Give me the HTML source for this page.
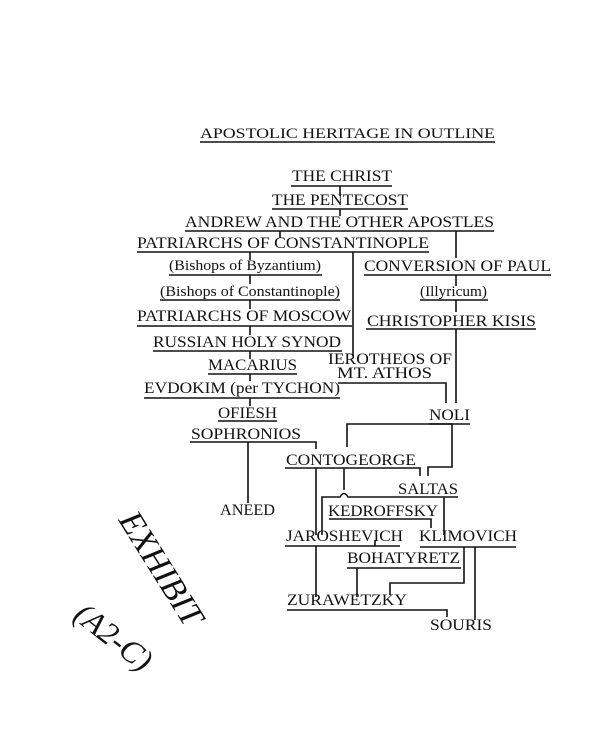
<!DOCTYPE html>
<html><head><meta charset="utf-8"><style>
html,body{margin:0;padding:0;background:#fff}
svg{display:block}
text{font-family:"Liberation Serif",serif;fill:#111}
</style></head><body>
<svg width="600" height="735" viewBox="0 0 600 735" xmlns="http://www.w3.org/2000/svg">
<g font-size="16" text-anchor="start">
<text x="200" y="138" textLength="295" lengthAdjust="spacingAndGlyphs" font-size="15">APOSTOLIC HERITAGE IN OUTLINE</text>
<text x="292" y="181" textLength="100" lengthAdjust="spacingAndGlyphs">THE CHRIST</text>
<text x="272" y="205" textLength="136" lengthAdjust="spacingAndGlyphs">THE PENTECOST</text>
<text x="185" y="227" textLength="309" lengthAdjust="spacingAndGlyphs">ANDREW AND THE OTHER APOSTLES</text>
<text x="137" y="248" textLength="292" lengthAdjust="spacingAndGlyphs">PATRIARCHS OF CONSTANTINOPLE</text>
<text x="169" y="270" textLength="152" lengthAdjust="spacingAndGlyphs" font-size="15">(Bishops of Byzantium)</text>
<text x="364" y="271" textLength="187" lengthAdjust="spacingAndGlyphs">CONVERSION OF PAUL</text>
<text x="160" y="296" textLength="180" lengthAdjust="spacingAndGlyphs" font-size="15">(Bishops of Constantinople)</text>
<text x="420" y="296" textLength="67" lengthAdjust="spacingAndGlyphs" font-size="15">(Illyricum)</text>
<text x="137" y="321" textLength="214" lengthAdjust="spacingAndGlyphs">PATRIARCHS OF MOSCOW</text>
<text x="367" y="326" textLength="169" lengthAdjust="spacingAndGlyphs">CHRISTOPHER KISIS</text>
<text x="153" y="347" textLength="188" lengthAdjust="spacingAndGlyphs">RUSSIAN HOLY SYNOD</text>
<text x="328" y="364" textLength="124" lengthAdjust="spacingAndGlyphs">IEROTHEOS OF</text>
<text x="208" y="370" textLength="89" lengthAdjust="spacingAndGlyphs">MACARIUS</text>
<text x="337" y="378" textLength="95" lengthAdjust="spacingAndGlyphs">MT. ATHOS</text>
<text x="144" y="393" textLength="196" lengthAdjust="spacingAndGlyphs">EVDOKIM (per TYCHON)</text>
<text x="218" y="418" textLength="59" lengthAdjust="spacingAndGlyphs">OFIESH</text>
<text x="429" y="420" textLength="41" lengthAdjust="spacingAndGlyphs">NOLI</text>
<text x="191" y="439" textLength="110" lengthAdjust="spacingAndGlyphs">SOPHRONIOS</text>
<text x="286" y="465" textLength="130" lengthAdjust="spacingAndGlyphs">CONTOGEORGE</text>
<text x="398" y="494" textLength="60" lengthAdjust="spacingAndGlyphs">SALTAS</text>
<text x="220" y="515" textLength="55" lengthAdjust="spacingAndGlyphs">ANEED</text>
<text x="328" y="516" textLength="110" lengthAdjust="spacingAndGlyphs">KEDROFFSKY</text>
<text x="286" y="541" textLength="117" lengthAdjust="spacingAndGlyphs">JAROSHEVICH</text>
<text x="419" y="541" textLength="98" lengthAdjust="spacingAndGlyphs">KLIMOVICH</text>
<text x="347" y="563" textLength="113" lengthAdjust="spacingAndGlyphs">BOHATYRETZ</text>
<text x="287" y="605" textLength="120" lengthAdjust="spacingAndGlyphs">ZURAWETZKY</text>
<text x="430" y="630" textLength="62" lengthAdjust="spacingAndGlyphs">SOURIS</text>
</g>
<g stroke="#111" stroke-width="1.6" fill="none">
<path d="M200 142H495"/>
<path d="M291 186H392M340 186V196"/>
<path d="M272 209H408M340 209V216"/>
<path d="M185 231H494M280 231V238M456 231V258"/>
<path d="M137 252H429M250 252V260M353 252V356"/>
<path d="M169 275H322M250 275V284"/>
<path d="M364 275H551M456 275V286"/>
<path d="M160 300H340M250 300V309"/>
<path d="M420 300H488M456 300V312"/>
<path d="M137 326H352M250 326V335"/>
<path d="M366 329H536M456 329V403"/>
<path d="M153 351H342M250 351V359"/>
<path d="M208 374H297M250 374V381"/>
<path d="M338 383H446V403"/>
<path d="M144 398H340M250 398V406"/>
<path d="M218 421H277"/>
<path d="M429 424H470"/>
<path d="M347 447V424H452V467H428V476"/>
<path d="M190 442H316V449M248 442V503"/>
<path d="M285 468H420V476M344 468V490M316 468V535"/>
<path d="M322 535V497H340Q344 490 348 497H458M444 497V535"/>
<path d="M329 519H431V528"/>
<path d="M285 546H400M375 546V540"/>
<path d="M420 547H516M464 547V583H390V595M475 547V620"/>
<path d="M347 568H461M357 568V597M316 546V597"/>
<path d="M287 610H447V617"/>
</g>
<g font-family="Liberation Sans,sans-serif">
<text x="0" y="0" font-size="34" fill="#222" transform="translate(118,520) rotate(58)" font-style="italic">EXHIBIT</text>
<text x="0" y="0" font-size="32" fill="#222" transform="translate(72,618) rotate(38)" font-style="italic">(A2-C)</text>
</g>
</svg>
</body></html>
